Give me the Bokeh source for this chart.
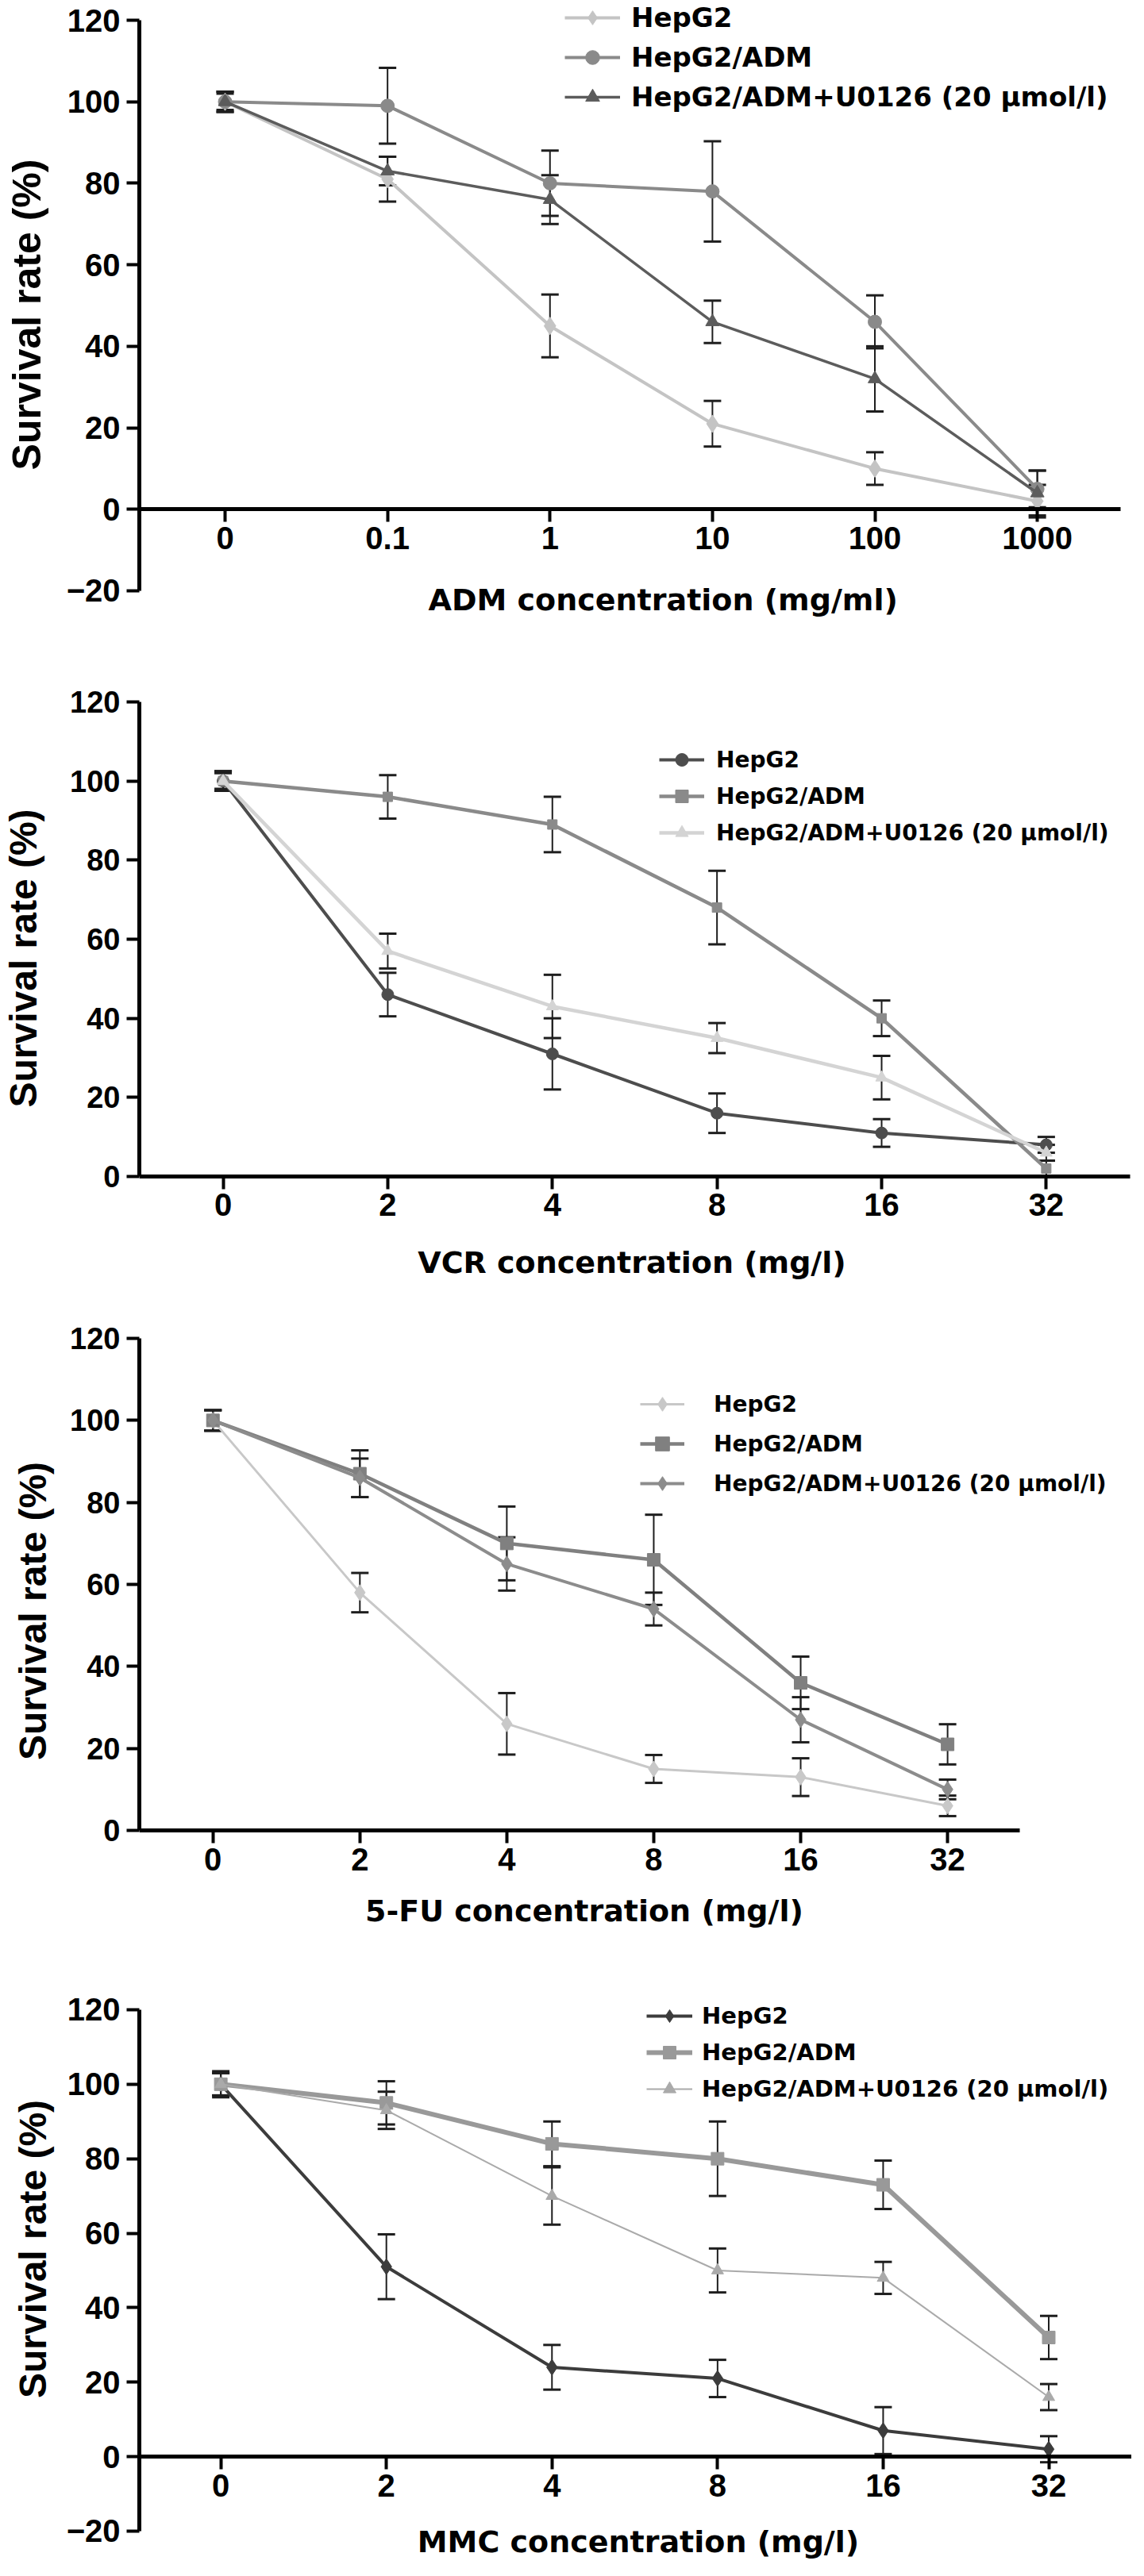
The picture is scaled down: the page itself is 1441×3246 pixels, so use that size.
from bokeh.plotting import figure
from bokeh.models import (ColumnDataSource, Range1d, FixedTicker, Whisker, TeeHead,
                          Legend, LegendItem, Label, LinearAxis)
from bokeh.layouts import column
from bokeh.embed import file_html
from bokeh.resources import INLINE

TICK_FONT = "Liberation Sans"
TEXT_FONT = "DejaVu Sans"

series_names = ["HepG2", "HepG2/ADM", "HepG2/ADM+U0126 (20 μmol/l)"]

adm_doses = ["0", "0.1", "1", "10", "100", "1000"]
other_doses = ["0", "2", "4", "8", "16", "32"]

# ADM panel
p1_hepg2 = [100, 81, 45, 21, 10, 2]
p1_hepg2_sd = [2, 5.5, 7.7, 5.6, 4, 4]
p1_adm = [100, 99, 80, 78, 46, 5]
p1_adm_sd = [2.5, 9.3, 8, 12.3, 6.5, 4.5]
p1_u0126 = [100, 83, 76, 46, 32, 4]
p1_u0126_sd = [2.5, 3.5, 6, 5.2, 8, 5.5]

# VCR panel
p2_hepg2 = [100, 46, 31, 16, 11, 8]
p2_hepg2_sd = [2.5, 5.5, 9, 5, 3.5, 2]
p2_adm = [100, 96, 89, 68, 40, 2]
p2_adm_sd = [2.5, 5.5, 7, 9.3, 4.5, 2]
p2_u0126 = [100, 57, 43, 35, 25, 6]
p2_u0126_sd = [2, 4.4, 8, 3.8, 5.5, 2]

# 5-FU panel
p3_hepg2 = [100, 58, 26, 15, 13, 6]
p3_hepg2_sd = [2.5, 4.8, 7.5, 3.4, 4.6, 2.5]
p3_adm = [100, 87, 70, 66, 36, 21]
p3_adm_sd = [2.5, 5.7, 9, 11, 6.4, 4.9]
p3_u0126 = [100, 86, 65, 54, 27, 10]
p3_u0126_sd = [2.5, 4.7, 6.5, 4, 5.5, 2.4]

# MMC panel
p4_hepg2 = [100, 51, 24, 21, 7, 2]
p4_hepg2_sd = [3, 8.7, 6, 5, 6.3, 3.5]
p4_adm = [100, 95, 84, 80, 73, 32]
p4_adm_sd = [3.5, 5.8, 6, 10, 6.5, 5.8]
p4_u0126 = [100, 93, 70, 50, 48, 16]
p4_u0126_sd = [3, 5, 7.7, 5.9, 4.3, 3.5]


def make_panel(doses, title, values, sds, look, box):
    p = figure(width=1425, height=box["h"], output_backend="svg", toolbar_location=None,
               x_range=Range1d(*box["xr"]), y_range=Range1d(*box["yr"]),
               x_axis_location=None, y_axis_location="left",
               min_border_left=box["left"], min_border_right=0,
               min_border_top=0, min_border_bottom=0)
    p.outline_line_color = None
    p.grid.grid_line_color = None

    yax = p.yaxis[0]
    yax.ticker = FixedTicker(ticks=box["yticks"])
    yax.bounds = box["ybounds"]
    yax.axis_line_width = 5
    yax.major_tick_line_width = 4
    yax.major_tick_out = 16
    yax.major_tick_in = 0
    yax.minor_tick_out = 0
    yax.minor_tick_in = 0
    yax.major_label_standoff = 8
    yax.major_label_text_font = TICK_FONT
    yax.major_label_text_font_size = box["yfs"]
    yax.major_label_text_font_style = "bold"
    yax.major_label_text_color = "black"
    yax.axis_label = "Survival rate (%)"
    yax.axis_label_text_font = TICK_FONT
    yax.axis_label_text_font_size = box["ytfs"]
    yax.axis_label_text_font_style = "bold"
    yax.axis_label_text_color = "black"
    yax.axis_label_standoff = box["ystand"]

    xs = list(range(len(doses)))
    xax = LinearAxis(fixed_location=0, ticker=FixedTicker(ticks=xs),
                     major_label_overrides={i: d for i, d in enumerate(doses)},
                     bounds=(box["xr"][0], box["xend"]))
    xax.axis_line_width = 5
    xax.major_tick_line_width = 4
    xax.major_tick_out = 16
    xax.major_tick_in = 0
    xax.minor_tick_out = 0
    xax.minor_tick_in = 0
    xax.major_label_standoff = 6
    xax.major_label_text_font = TICK_FONT
    xax.major_label_text_font_size = "40px"
    xax.major_label_text_font_style = "bold"
    xax.major_label_text_color = "black"
    p.add_layout(xax, "below")

    items = []
    sources = []
    for name, y, sd, (color, marker, lw, ms) in zip(series_names, values, sds, look):
        src = ColumnDataSource(dict(x=xs, y=y,
                                    upper=[a + b for a, b in zip(y, sd)],
                                    lower=[a - b for a, b in zip(y, sd)]))
        r1 = p.line("x", "y", source=src, line_color=color, line_width=lw)
        r2 = p.scatter("x", "y", source=src, marker=marker, size=ms,
                       fill_color=color, line_color=color)
        items.append(LegendItem(label=name, renderers=[r1, r2]))
        sources.append(src)

    for src in sources:
        p.add_layout(Whisker(source=src, base="x", upper="upper", lower="lower",
                             line_color="#1e1e1e", line_width=2,
                             upper_head=TeeHead(size=22, line_width=3, line_color="#1e1e1e"),
                             lower_head=TeeHead(size=22, line_width=3, line_color="#1e1e1e")))

    leg = Legend(items=items, location=box["leg"], padding=0, margin=0,
                 spacing=6, glyph_width=box["gw"], glyph_height=box["eh"],
                 label_height=box["eh"], label_standoff=box["ls"],
                 label_text_font=TEXT_FONT, label_text_font_size=box["lfs"],
                 label_text_font_style="bold", label_text_color="black",
                 background_fill_alpha=0, border_line_alpha=0)
    p.add_layout(leg)

    p.add_layout(Label(x=box["tx"], y=box["ty"], text=title, text_align="center",
                       text_baseline="middle", text_font=TEXT_FONT,
                       text_font_size="38px", text_font_style="bold", text_color="black"))
    return p


f1 = make_panel(adm_doses, "ADM concentration (mg/ml)",
                [p1_hepg2, p1_adm, p1_u0126], [p1_hepg2_sd, p1_adm_sd, p1_u0126_sd],
                [("#c4c4c4", "diamond", 4, 22), ("#8a8a8a", "circle", 4, 17),
                 ("#5c5c5c", "triangle", 3.5, 17)],
                dict(h=792, left=163, xr=(-0.528, 5.581), xend=5.513, yr=(-29.35, 124.87),
                     yticks=[-20, 0, 20, 40, 60, 80, 100, 120], ybounds=(-20, 120),
                     yfs="40px", ytfs="50px", ystand=19,
                     leg=(536, 648), gw=70, eh=44, ls=14, lfs="34px", tx=2.696, ty=-22.33))

f2 = make_panel(other_doses, "VCR concentration (mg/l)",
                [p2_hepg2, p2_adm, p2_u0126], [p2_hepg2_sd, p2_adm_sd, p2_u0126_sd],
                [("#4d4d4d", "circle", 4, 15), ("#8a8a8a", "square", 4.5, 12),
                 ("#d4d4d4", "triangle", 4.5, 15)],
                dict(h=830, left=170, xr=(-0.509, 5.519), xend=5.509, yr=(-28.10, 138.46),
                     yticks=[0, 20, 40, 60, 80, 100, 120], ybounds=(0, 120),
                     yfs="38px", ytfs="48px", ystand=29,
                     leg=(655, 553), gw=57, eh=40, ls=15, lfs="28px", tx=2.483, ty=-21.68))

f3 = make_panel(other_doses, "5-FU concentration (mg/l)",
                [p3_hepg2, p3_adm, p3_u0126], [p3_hepg2_sd, p3_adm_sd, p3_u0126_sd],
                [("#c8c8c8", "diamond", 3, 20), ("#808080", "square", 4.5, 16),
                 ("#8c8c8c", "diamond", 4, 20)],
                dict(h=815, left=158, xr=(-0.501, 6.253), xend=5.49, yr=(-25.35, 132.39),
                     yticks=[0, 20, 40, 60, 80, 100, 120], ybounds=(0, 120),
                     yfs="38px", ytfs="48px", ystand=17,
                     leg=(631, 546), gw=56, eh=44, ls=37, lfs="28px", tx=2.527, ty=-19.73))

f4 = make_panel(other_doses, "MMC concentration (mg/l)",
                [p4_hepg2, p4_adm, p4_u0126], [p4_hepg2_sd, p4_adm_sd, p4_u0126_sd],
                [("#3c3c3c", "diamond", 4, 20), ("#999999", "square", 6, 16),
                 ("#aaaaaa", "triangle", 2, 15)],
                dict(h=793, left=158, xr=(-0.492, 5.501), xend=5.50, yr=(-28.74, 140.24),
                     yticks=[-20, 0, 20, 40, 60, 80, 100, 120], ybounds=(-20, 120),
                     yfs="40px", ytfs="48px", ystand=13,
                     leg=(639, 578), gw=58, eh=40, ls=12, lfs="29px", tx=2.521, ty=-22.98))

page = column(f1, f2, f3, f4, spacing=0)
open("out.html", "w").write(file_html(page, INLINE))
